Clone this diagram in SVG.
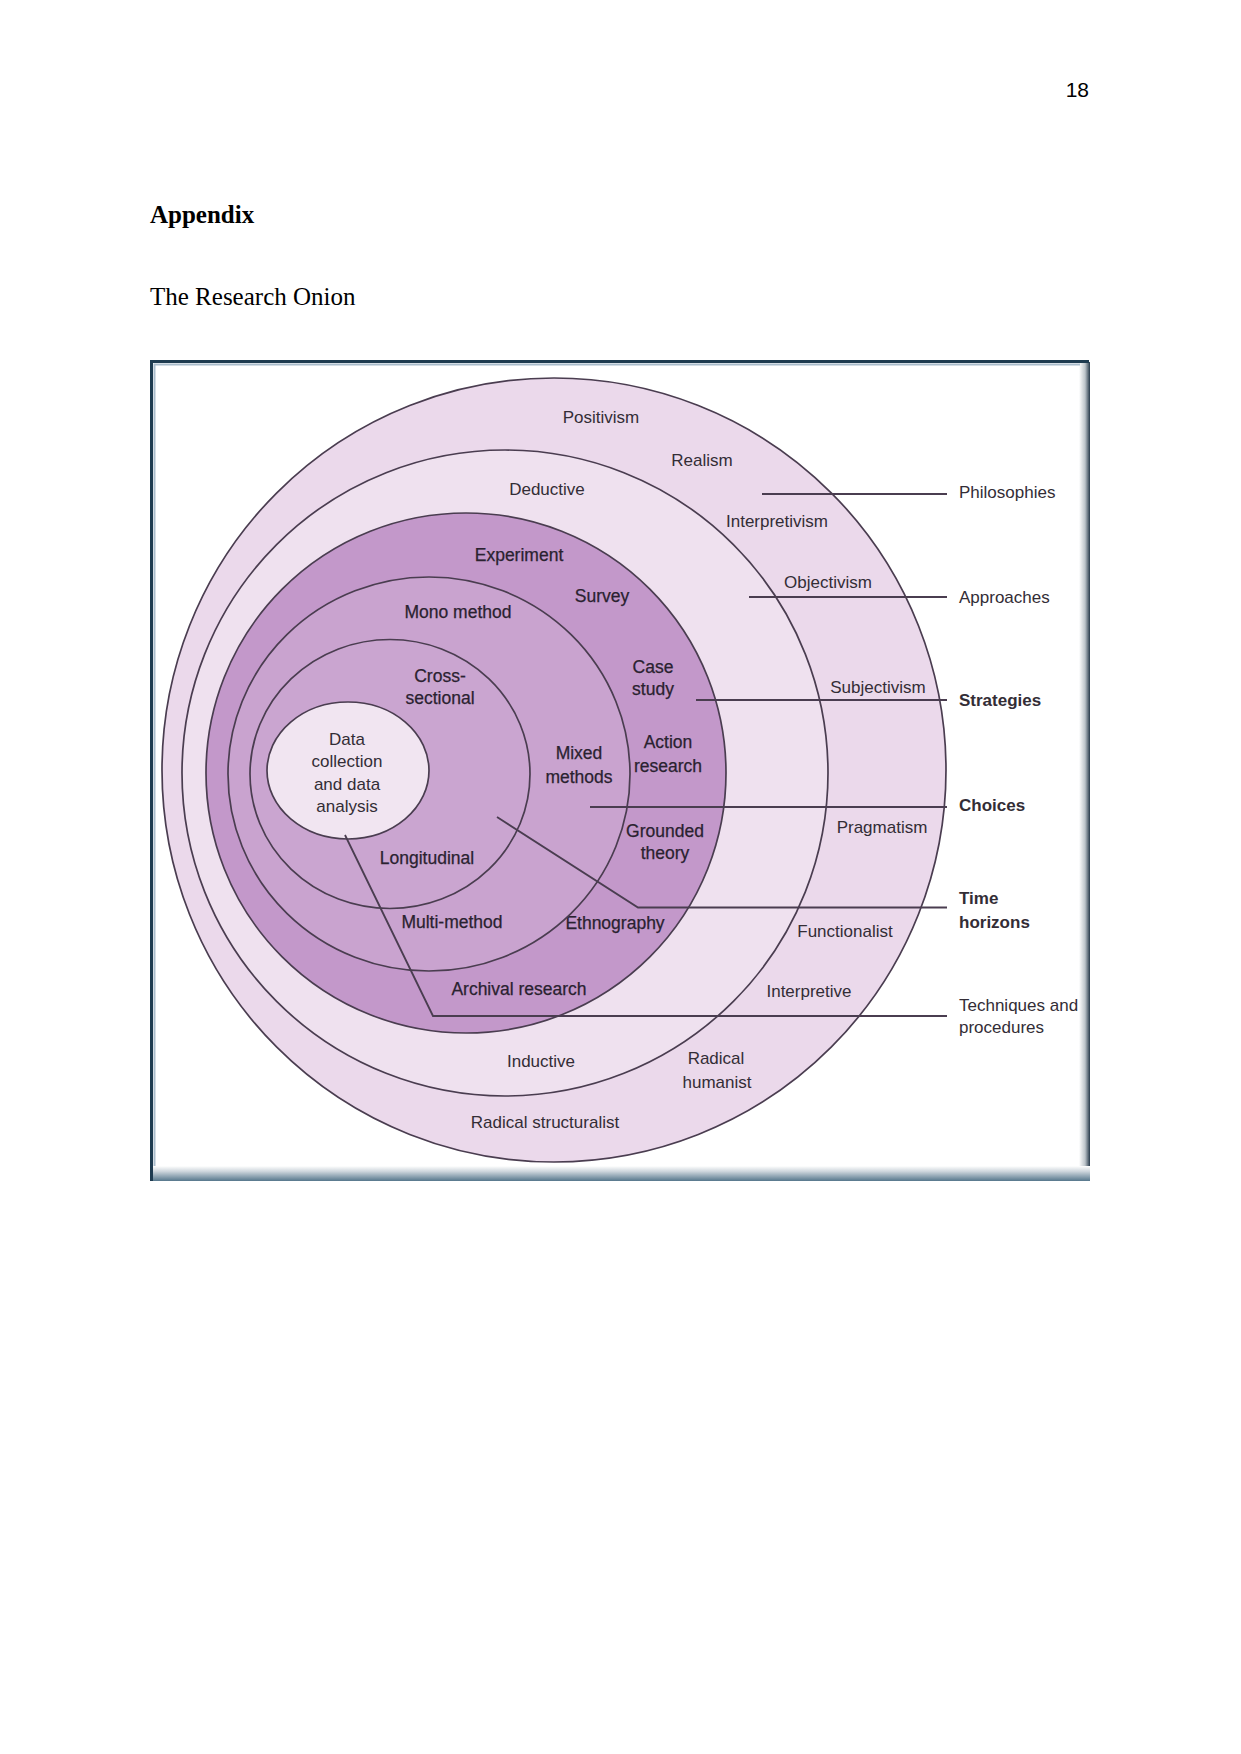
<svg xmlns="http://www.w3.org/2000/svg" width="1241" height="1754" viewBox="0 0 1241 1754">
<style>
.pg{font-family:"Liberation Serif","Times New Roman",serif;fill:#000}
.lbl{font-family:"Liberation Sans",Arial,sans-serif;font-size:17px;fill:#332d36;text-anchor:middle}
.in{font-size:17.5px;fill:#2a2230;stroke:#2a2230;stroke-width:0.25}
.side{text-anchor:start}
.b{font-weight:bold}
.ring{stroke:#4a3d50;stroke-width:1.7}
.conn{stroke:#4a3d50;stroke-width:1.8;fill:none}
</style>
<defs>
<linearGradient id="gB" x1="0" y1="0" x2="0" y2="1"><stop offset="0" stop-color="#ffffff"/><stop offset="0.35" stop-color="#cfd7dd"/><stop offset="1" stop-color="#56778c"/></linearGradient>
<linearGradient id="gR" x1="0" y1="0" x2="1" y2="0"><stop offset="0" stop-color="#ffffff"/><stop offset="0.55" stop-color="#bcc4ca"/><stop offset="1" stop-color="#26394a"/></linearGradient>
</defs>
<rect width="1241" height="1754" fill="#fff"/>
<g id="page">
<text x="1089" y="97" text-anchor="end" font-family="Liberation Sans, Arial, sans-serif" font-size="21" fill="#000">18</text>
<text class="pg" x="150" y="223" font-size="25" font-weight="bold">Appendix</text>
<text class="pg" x="150" y="305" font-size="25">The Research Onion</text>
</g>
<g id="frame">
<rect x="150" y="360" width="940" height="821" fill="#fff"/>
<rect x="1079" y="362" width="11" height="819" fill="url(#gR)"/>
<rect x="150" y="1166" width="940" height="15" fill="url(#gB)"/>
<path d="M154.5,1166 V364.5 H1080" stroke="#a9bccb" stroke-width="2" fill="none"/>
<path d="M151.5,1181 V361.5 H1089" stroke="#1e3b50" stroke-width="3" fill="none"/>
</g>
<g id="philosophies">
<circle class="ring" cx="554" cy="770" r="392" fill="#ebd9eb"/>
<text class="lbl" x="601" y="423">Positivism</text>
<text class="lbl" x="702" y="466">Realism</text>
<text class="lbl" x="777" y="527">Interpretivism</text>
<text class="lbl" x="828" y="588">Objectivism</text>
<text class="lbl" x="878" y="693">Subjectivism</text>
<text class="lbl" x="882" y="833">Pragmatism</text>
<text class="lbl" x="845" y="937">Functionalist</text>
<text class="lbl" x="809" y="997">Interpretive</text>
<text class="lbl" x="716" y="1064">Radical</text>
<text class="lbl" x="717" y="1088">humanist</text>
<text class="lbl" x="545" y="1128">Radical structuralist</text>
</g>
<g id="approaches">
<circle class="ring" cx="505" cy="773" r="323" fill="#efe1ef"/>
<text class="lbl" x="547" y="495">Deductive</text>
<text class="lbl" x="541" y="1067">Inductive</text>
</g>
<g id="strategies">
<circle class="ring" cx="466" cy="773" r="260" fill="#c398ca"/>
<text class="lbl in" x="519" y="561">Experiment</text>
<text class="lbl in" x="602" y="602">Survey</text>
<text class="lbl in" x="653" y="673">Case</text>
<text class="lbl in" x="653" y="695">study</text>
<text class="lbl in" x="668" y="748">Action</text>
<text class="lbl in" x="668" y="772">research</text>
<text class="lbl in" x="665" y="837">Grounded</text>
<text class="lbl in" x="665" y="859">theory</text>
<text class="lbl in" x="615" y="929">Ethnography</text>
<text class="lbl in" x="519" y="995">Archival research</text>
</g>
<g id="choices">
<ellipse class="ring" cx="429" cy="774" rx="201" ry="197" fill="#c9a3cf"/>
<text class="lbl in" x="458" y="618">Mono method</text>
<text class="lbl in" x="579" y="759">Mixed</text>
<text class="lbl in" x="579" y="783">methods</text>
<text class="lbl in" x="452" y="928">Multi-method</text>
</g>
<g id="time-horizons">
<ellipse class="ring" cx="390" cy="774" rx="140" ry="134.5" fill="#caa5d0"/>
<text class="lbl in" x="440" y="682">Cross-</text>
<text class="lbl in" x="440" y="704">sectional</text>
<text class="lbl in" x="427" y="864">Longitudinal</text>
</g>
<g id="techniques">
<ellipse class="ring" cx="348" cy="770.5" rx="81" ry="68.5" fill="#f1e5f1"/>
<text class="lbl" x="347" y="745">Data</text>
<text class="lbl" x="347" y="767">collection</text>
<text class="lbl" x="347" y="790">and data</text>
<text class="lbl" x="347" y="812">analysis</text>
</g>
<g id="connectors">
<line class="conn" x1="762" y1="494" x2="947" y2="494"/>
<line class="conn" x1="749" y1="597" x2="947" y2="597"/>
<line class="conn" x1="696" y1="700" x2="947" y2="700"/>
<line class="conn" x1="590" y1="807" x2="947" y2="807"/>
<polyline class="conn" points="497,817 638,907.5 947,907.5"/>
<polyline class="conn" points="345,835 433,1016 947,1016"/>
</g>
<g id="layer-labels">
<text class="lbl side" x="959" y="498">Philosophies</text>
<text class="lbl side" x="959" y="603">Approaches</text>
<text class="lbl side b" x="959" y="706">Strategies</text>
<text class="lbl side b" x="959" y="811">Choices</text>
<text class="lbl side b" x="959" y="904">Time</text>
<text class="lbl side b" x="959" y="928">horizons</text>
<text class="lbl side" x="959" y="1011">Techniques and</text>
<text class="lbl side" x="959" y="1033">procedures</text>
</g>
</svg>
